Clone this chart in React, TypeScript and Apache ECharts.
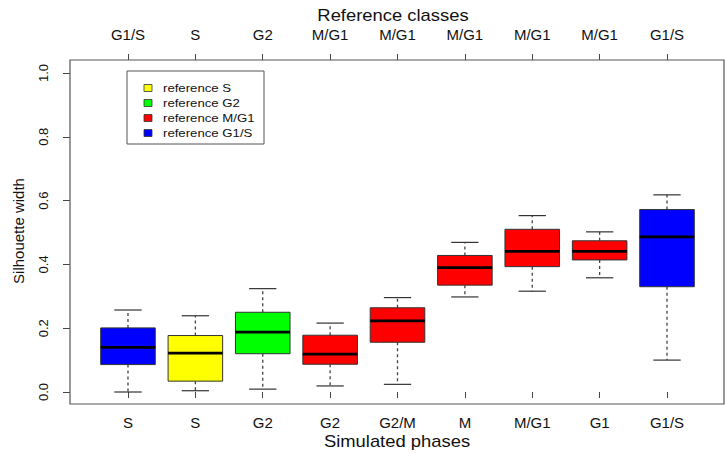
import React, { useEffect, useRef } from "react";
import * as echarts from "echarts";

// ---- data ----
const simulatedPhases = ["S", "S", "G2", "G2", "G2/M", "M", "M/G1", "G1", "G1/S"];
const referenceClasses = ["G1/S", "S", "G2", "M/G1", "M/G1", "M/G1", "M/G1", "M/G1", "G1/S"];
const whiskerLow = [0.0, 0.004, 0.009, 0.019, 0.024, 0.298, 0.316, 0.358, 0.1];
const quartile1 = [0.086, 0.034, 0.12, 0.087, 0.156, 0.335, 0.393, 0.414, 0.33];
const medians = [0.14, 0.122, 0.188, 0.119, 0.223, 0.39, 0.441, 0.441, 0.486];
const quartile3 = [0.201, 0.177, 0.25, 0.178, 0.264, 0.428, 0.51, 0.474, 0.572];
const whiskerHigh = [0.257, 0.239, 0.324, 0.216, 0.296, 0.469, 0.553, 0.502, 0.618];
const legendClasses = ["S", "G2", "M/G1", "G1/S"];
const classColors: Record<string, string> = {
  S: "#ffff00",
  G2: "#00ff00",
  "M/G1": "#ff0000",
  "G1/S": "#0000ff",
};
const yTicks = [0, 0.2, 0.4, 0.6, 0.8, 1.0];

const FONT = "Liberation Sans, Arial, Helvetica, sans-serif";

export default function App() {
  const ref = useRef<HTMLDivElement>(null);
  useEffect(() => {
    if (!ref.current) return;
    const chart = echarts.init(ref.current, null, { renderer: "svg" });
    const data = simulatedPhases.map((_, i) => [
      i,
      whiskerLow[i],
      quartile1[i],
      medians[i],
      quartile3[i],
      whiskerHigh[i],
    ]);

    const legendChildren: any[] = [
      {
        type: "rect",
        shape: { x: 127, y: 71, width: 137, height: 73 },
        style: { fill: "#fff", stroke: "#555", lineWidth: 1 },
      },
    ];
    legendClasses.forEach((c, k) => {
      const cy = 88 + k * 15;
      legendChildren.push({
        type: "rect",
        shape: { x: 144, y: cy - 3.5, width: 8, height: 7 },
        style: { fill: classColors[c], stroke: "#333", lineWidth: 0.8 },
      });
      legendChildren.push({
        type: "text",
        x: 163,
        y: cy,
        scaleX: 1.2,
        style: {
          text: "reference " + c,
          font: `11px ${FONT}`,
          fill: "#111",
          verticalAlign: "middle",
          align: "left",
        },
      });
    });

    chart.setOption({
      animation: false,
      grid: { left: 94.3, width: 606.4, top: 73, height: 319 },
      xAxis: [
        {
          type: "category",
          data: simulatedPhases,
          position: "bottom",
          offset: 12,
          boundaryGap: true,
          axisLine: { show: false },
          axisTick: { show: true, alignWithLabel: true, length: 6, lineStyle: { color: "#444" } },
          axisLabel: { fontFamily: FONT, fontSize: 15, color: "#111", margin: 11, interval: 0 },
          splitLine: { show: false },
        },
        {
          type: "category",
          data: referenceClasses,
          position: "top",
          offset: 13,
          boundaryGap: true,
          axisLine: { show: false },
          axisTick: { show: true, alignWithLabel: true, length: 6, lineStyle: { color: "#444" } },
          axisLabel: { fontFamily: FONT, fontSize: 15, color: "#111", margin: 18, interval: 0 },
          splitLine: { show: false },
        },
      ],
      yAxis: {
        type: "value",
        min: 0,
        max: 1,
        interval: 0.2,
        offset: 24.3,
        axisLine: { show: false },
        axisTick: { show: true, length: 7, lineStyle: { color: "#444" } },
        axisLabel: {
          fontFamily: FONT,
          fontSize: 13,
          color: "#111",
          rotate: 90,
          margin: 20,
          formatter: (v: number) => (yTicks.includes(Math.round(v * 10) / 10) ? v.toFixed(1) : ""),
        },
        splitLine: { show: false },
      },
      series: [
        {
          type: "custom",
          xAxisIndex: 0,
          encode: { x: 0, y: [1, 2, 3, 4, 5] },
          data,
          renderItem: (params: any, api: any) => {
            const i = api.value(0);
            const lo = api.coord([i, api.value(1)]);
            const q1 = api.coord([i, api.value(2)]);
            const md = api.coord([i, api.value(3)]);
            const q3 = api.coord([i, api.value(4)]);
            const hi = api.coord([i, api.value(5)]);
            const bandW = api.size([1, 0])[0];
            const bw = bandW * 0.81;
            const cw = bw * 0.5;
            const x = lo[0];
            const color = classColors[referenceClasses[params.dataIndex]];
            const dash = { stroke: "#444", lineWidth: 1.3, lineDash: [3, 3] };
            const solid = { stroke: "#333", lineWidth: 1.2 };
            return {
              type: "group",
              children: [
                { type: "line", shape: { x1: x, y1: q3[1], x2: x, y2: hi[1] }, style: dash },
                { type: "line", shape: { x1: x, y1: q1[1], x2: x, y2: lo[1] }, style: dash },
                { type: "line", shape: { x1: x - cw / 2, y1: hi[1], x2: x + cw / 2, y2: hi[1] }, style: solid },
                { type: "line", shape: { x1: x - cw / 2, y1: lo[1], x2: x + cw / 2, y2: lo[1] }, style: solid },
                {
                  type: "rect",
                  shape: { x: x - bw / 2, y: q3[1], width: bw, height: q1[1] - q3[1] },
                  style: { fill: color, stroke: "#333", lineWidth: 1 },
                },
                {
                  type: "line",
                  shape: { x1: x - bw / 2, y1: md[1], x2: x + bw / 2, y2: md[1] },
                  style: { stroke: "#000", lineWidth: 2.8 },
                },
              ],
            };
          },
        },
      ],
      graphic: [
        {
          type: "rect",
          shape: { x: 70, y: 60, width: 654, height: 344 },
          style: { fill: "none", stroke: "#555", lineWidth: 1.2 },
          silent: true,
          z: 100,
        },
        {
          type: "text",
          x: 393,
          y: 15,
          scaleX: 1.15,
          style: { text: "Reference classes", font: `16px ${FONT}`, fill: "#111", align: "center", verticalAlign: "middle" },
        },
        {
          type: "text",
          x: 397,
          y: 441,
          scaleX: 1.15,
          style: { text: "Simulated phases", font: `16px ${FONT}`, fill: "#111", align: "center", verticalAlign: "middle" },
        },
        {
          type: "text",
          x: 18,
          y: 231,
          rotation: Math.PI / 2,
          style: { text: "Silhouette width", font: `15px ${FONT}`, fill: "#111", align: "center", verticalAlign: "middle" },
        },
        { type: "group", children: legendChildren },
      ],
    });
    return () => chart.dispose();
  }, []);
  return (
    <div
      ref={ref}
      style={{ position: "fixed", left: 0, top: 0, width: 725, height: 453, background: "#fff" }}
    />
  );
}
